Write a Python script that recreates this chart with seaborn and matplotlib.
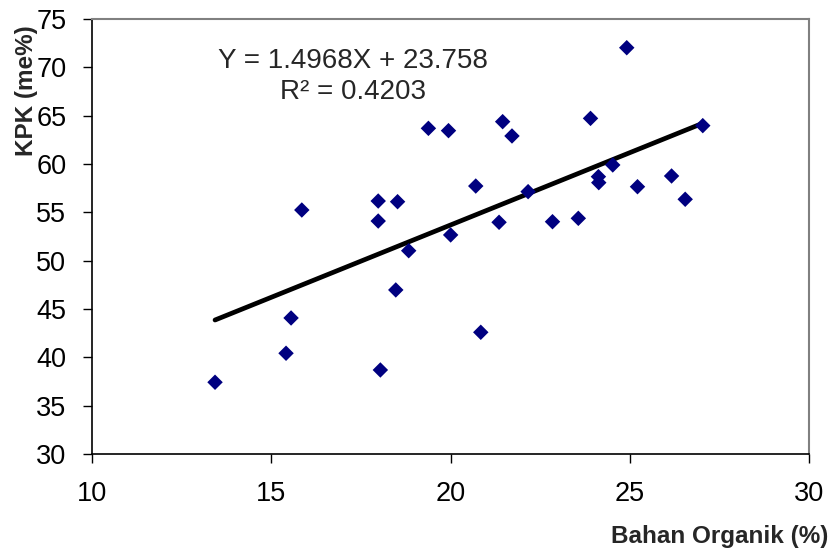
import matplotlib
matplotlib.use("Agg")
import matplotlib.pyplot as plt
import seaborn as sns
import pandas as pd

# data
bahan_organik = [13.43, 15.41, 15.55, 15.85, 17.98, 17.98, 18.04, 18.47, 18.52, 18.83,
                 19.38, 19.94, 20.00, 20.70, 20.84, 21.35, 21.45, 21.71, 22.16, 22.84,
                 23.56, 23.90, 24.12, 24.13, 24.52, 24.91, 25.21, 26.16, 26.54, 27.03]
kpk = [37.42, 40.42, 44.07, 55.24, 56.17, 54.10, 38.69, 46.97, 56.10, 51.03,
       63.69, 63.45, 52.66, 57.72, 42.59, 53.97, 64.38, 62.90, 57.14, 54.03,
       54.38, 64.72, 58.69, 58.07, 59.90, 72.03, 57.65, 58.76, 56.35, 63.97]
slope = 1.4968
intercept = 23.758
r2 = 0.4203

table = pd.DataFrame({'bo': bahan_organik, 'kpk': kpk})
xs = [table['bo'].min(), table['bo'].max()]
trend = pd.DataFrame({'bo': xs, 'kpk': [slope * x + intercept for x in xs]})

sns.set_style('white')
plt.rcParams['font.family'] = ['Liberation Sans', 'DejaVu Sans']

fig = plt.figure(figsize=(8.35, 5.56), dpi=100)
ax = fig.add_axes([0.1102, 0.1835, 0.8590, 0.7823])

sns.lineplot(x='bo', y='kpk', data=trend, color='black', linewidth=3.4, ax=ax)
sns.scatterplot(x='bo', y='kpk', data=table, marker='D', s=62, color='#000080',
                edgecolor='none', ax=ax, zorder=3)

ax.set_xlim(10, 30)
ax.set_ylim(30, 75)
ax.set_xticks(range(10, 31, 5))
ax.set_yticks(range(30, 76, 5))
ax.set_xlabel('')
ax.set_ylabel('')
ax.tick_params(axis='both', direction='out', length=6.5, width=1, colors='black',
               labelsize=19.5, bottom=True, left=True)
ax.tick_params(axis='y', pad=12)
ax.tick_params(axis='x', pad=13)

for side in ['left', 'bottom']:
    ax.spines[side].set_color('black')
    ax.spines[side].set_linewidth(1.2)
for side in ['top', 'right']:
    ax.spines[side].set_color('#808080')
    ax.spines[side].set_linewidth(1.5)

ax.text(17.28, 69.9, 'Y = %.4fX + %.3f' % (slope, intercept), fontsize=20,
        ha='center', va='baseline')
ax.text(17.28, 66.7, 'R\u00b2 = %.4f' % r2, fontsize=20, ha='center', va='baseline')

fig.text(828 / 835, 1 - 537 / 556, 'Bahan Organik (%)', fontsize=17.5,
         fontweight='bold', ha='right', va='center')
fig.text(27 / 835, 1 - 91 / 556, 'KPK (me%)', fontsize=17.5, fontweight='bold',
         rotation=90, ha='center', va='center')

plt.savefig('out.png', dpi=100)
